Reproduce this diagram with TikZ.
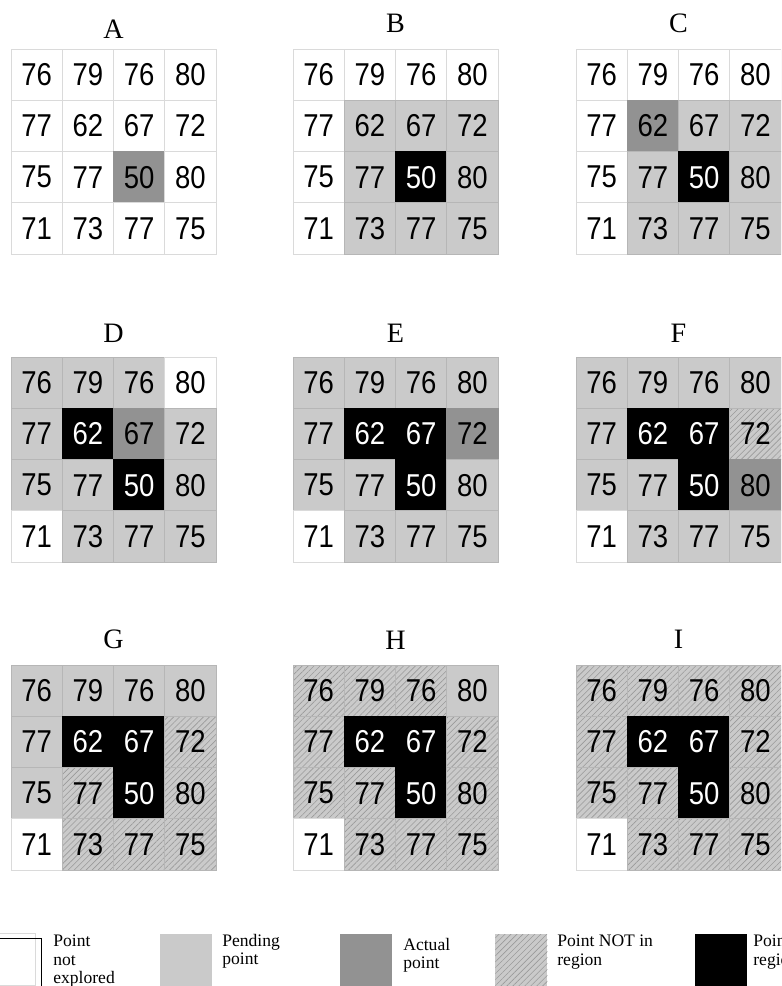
\documentclass[tikz,border=0pt]{standalone}
\usepackage{fontspec}
\setmainfont{Liberation Serif}
\newfontfamily\zahl[FakeStretch=0.87]{Liberation Sans}
\usetikzlibrary{patterns.meta}
\definecolor{gpend}{HTML}{CACACA}
\definecolor{gakt}{HTML}{929292}
\definecolor{glinie}{HTML}{B6B6B6}
\definecolor{hlinie}{HTML}{DADADA}
\definecolor{gschraff}{HTML}{9A9A9A}
\tikzset{
  zelle/.style={rectangle,minimum size=1.025cm,inner sep=0pt,outer sep=0pt,line width=0.4pt,
    font=\zahl\fontsize{18}{18}\selectfont},
  unexp/.style={zelle,fill=white,draw=hlinie},
  pend/.style={zelle,fill=gpend,draw=glinie},
  actl/.style={zelle,fill=gakt,draw=gakt},
  outr/.style={zelle,draw=glinie,preaction={fill=gpend},
    pattern={Lines[angle=45,distance=2.4pt,line width=0.35pt]},pattern color=gschraff},
  inr/.style={zelle,fill=black,draw=black,text=white},
  titel/.style={anchor=base,inner sep=0pt,font=\fontsize{16}{16}\selectfont},
  legbox/.style={rectangle,anchor=north west,minimum size=1.04cm,inner sep=0pt,line width=0.4pt},
  legtext/.style={anchor=north west,inner sep=0pt,align=left,font=\fontsize{10}{10.4}\selectfont},
}
\def\werte{{76,79,76,80,77,62,67,72,75,77,50,80,71,73,77,75}}
% one 4x4 panel: name, left, top, title offset, cell states
\newcommand{\gitter}[5]{%
  \node[titel] (t#1) at ({#2+102.5},{#3-#4}) {#1};
  \foreach \st [count=\i from 0] in {#5} {
    \pgfmathtruncatemacro{\zr}{int(\i/4)}
    \pgfmathtruncatemacro{\zs}{mod(\i,4)}
    \pgfmathtruncatemacro{\zw}{\werte[\i]}
    \node[\st] (#1-\zr\zs) at ({#2+(\zs+0.5)*51.25},{#3+(\zr+0.5)*51.25}) {\raisebox{-1pt}{\zw}};
  }
}

\begin{document}
\begin{tikzpicture}[x=0.02cm,y=-0.02cm]
  \useasboundingbox (0,0) rectangle (781,986);
  \clip (0,0) rectangle (781,986);

  % first row
  \gitter{A}{11}{49}{10}{unexp,unexp,unexp,unexp, unexp,unexp,unexp,unexp, unexp,unexp,actl,unexp, unexp,unexp,unexp,unexp}
  \gitter{B}{293}{49}{16}{unexp,unexp,unexp,unexp, unexp,pend,pend,pend, unexp,pend,inr,pend, unexp,pend,pend,pend}
  \gitter{C}{576}{49}{16}{unexp,unexp,unexp,unexp, unexp,actl,pend,pend, unexp,pend,inr,pend, unexp,pend,pend,pend}
  % second row
  \gitter{D}{11}{357}{15}{pend,pend,pend,unexp, pend,inr,actl,pend, pend,pend,inr,pend, unexp,pend,pend,pend}
  \gitter{E}{293}{357}{15}{pend,pend,pend,pend, pend,inr,inr,actl, pend,pend,inr,pend, unexp,pend,pend,pend}
  \gitter{F}{576}{357}{15}{pend,pend,pend,pend, pend,inr,inr,outr, pend,pend,inr,actl, unexp,pend,pend,pend}
  % third row
  \gitter{G}{11}{665}{17}{pend,pend,pend,pend, pend,inr,inr,outr, pend,outr,inr,outr, unexp,outr,outr,outr}
  \gitter{H}{293}{665}{16}{outr,outr,outr,pend, outr,inr,inr,outr, outr,outr,inr,outr, unexp,outr,outr,outr}
  \gitter{I}{576}{665}{17}{outr,outr,outr,outr, outr,inr,inr,outr, outr,outr,inr,outr, unexp,outr,outr,outr}

  % legend
  \node[legbox,draw=hlinie,fill=white] (l1a) at (-17,933) {};
  \node[legbox,draw=black] (l1b) at (-11,938) {};
  \node[legtext] (x1) at (53,935) {Point\\not\\explored};
  \node[legbox,fill=gpend] (l2) at (160,934) {};
  \node[legtext] (x2) at (222,934) {Pending\\point};
  \node[legbox,fill=gakt] (l3) at (340,934) {};
  \node[legtext] (x3) at (403,938) {Actual\\point};
  \node[legbox,preaction={fill=gpend},pattern={Lines[angle=45,distance=2.4pt,line width=0.35pt]},
    pattern color=gschraff] (l4) at (495,934) {};
  \node[legtext] (x4) at (557,935) {Point NOT in\\region};
  \node[legbox,fill=black] (l5) at (695,934) {};
  \node[legtext] (x5) at (753,935) {Point in\\region};
\end{tikzpicture}
\end{document}
